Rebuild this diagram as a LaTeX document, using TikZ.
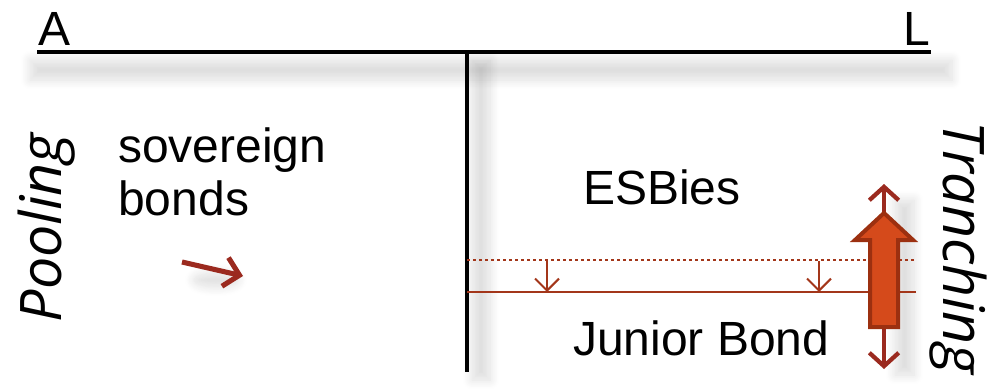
\documentclass[tikz,border=0pt]{standalone}
\usepackage{fontspec}
\setmainfont{Liberation Sans}
\newfontfamily\osfont{Open Sans}
\usetikzlibrary{arrows.meta,shadows.blur}
\definecolor{rust}{HTML}{A3361A}
\definecolor{arrowfill}{HTML}{D54A1B}
\definecolor{arrowedge}{HTML}{9C3010}
\definecolor{darkred}{HTML}{9B2A1F}
\tikzset{
  bigtext/.style={inner sep=0pt, font=\fontsize{36}{43}\selectfont},
  sidetext/.style={inner sep=0pt, font=\osfont\itshape\fontsize{43}{50}\selectfont},
  axis/.style={line width=3pt, black},
  softshadow/.style={blur shadow={shadow xshift=0pt, shadow yshift=0pt, shadow blur radius=7pt, shadow blur steps=12, shadow opacity=13}},
  tranche/.style={rust, line width=1.6pt},
  dropper/.style={rust, line width=1.5pt, -{Straight Barb[length=9pt, width=18pt]}},
}
\begin{document}
\begin{tikzpicture}[x=0.75pt,y=-0.75pt]
\useasboundingbox (0,0) rectangle (998,389);
% shadows
\path[softshadow] (30,60) rectangle (952,80);
\path[softshadow] (472,60) rectangle (490,380);
\path[softshadow] (216,280) ellipse (22 and 7);
\path[softshadow] (895,200) rectangle (914,375);
% balance sheet axes
\coordinate (hl) at (37,52);
\coordinate (hr) at (931,52);
\coordinate (vt) at (467,52);
\coordinate (vb) at (467,372);
\draw[axis] (hl) -- (hr);
\draw[line width=2.4pt] (vt) -- (vb);
% labels
\node[bigtext, anchor=base west] (A) at (38,45) {A};
\node[bigtext, anchor=base east] (L) at (930,45) {L};
\node[bigtext, anchor=base west] (sov) at (118,162) {sovereign};
\node[bigtext, anchor=base west] (bonds) at (118,215) {bonds};
\node[bigtext, anchor=base west] (esb) at (583,204) {ESBies};
\node[bigtext, anchor=base west] (jb) at (573,355) {Junior Bond};
\node[sidetext, rotate=90] (pool) at (47,228) {Pooling};
\node[sidetext, rotate=-90] (tranch) at (958,248) {Tranching};
% pooling arrow
\coordinate (pa) at (182,262);
\coordinate (pb) at (243,276);
\draw[darkred, line width=3.8pt, -{Straight Barb[length=11pt, width=22pt]}] (pa) -- (pb);
% tranche lines
\coordinate (dl) at (467,260);
\coordinate (dr) at (916,260);
\coordinate (sl) at (467,292);
\coordinate (sr) at (916,292);
\draw[tranche, line width=1.8pt, dash pattern=on 2.2pt off 2.3pt] (dl) -- (dr);
\draw[tranche] (sl) -- (sr);
\coordinate (d1t) at (547,261);
\coordinate (d1b) at (547,292);
\coordinate (d2t) at (819,261);
\coordinate (d2b) at (819,292);
\draw[dropper] (d1t) -- (d1b);
\draw[dropper] (d2t) -- (d2b);
% tranching double arrow
\coordinate (tt) at (884,184);
\coordinate (tb) at (884,369);
\draw[darkred, line width=3.2pt, {Straight Barb[length=10pt, width=22pt]}-{Straight Barb[length=10pt, width=22pt]}] (tt) -- (tb);
\draw[arrowedge, fill=arrowfill, line width=3pt, line join=miter]
  (870,327) -- (870,240) -- (855,240) -- (884,213) -- (913,240) -- (898,240) -- (898,327) -- cycle;
\end{tikzpicture}
\end{document}
